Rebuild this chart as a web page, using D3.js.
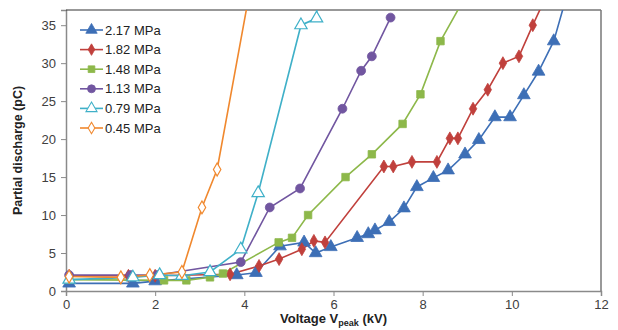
<!DOCTYPE html>
<html>
<head>
<meta charset="utf-8">
<script src="https://cdn.jsdelivr.net/npm/d3@7"></script>
<style>
  body { margin: 0; background: #fff; }
  text { font-family: "Liberation Sans", Arial, sans-serif; }
</style>
</head>
<body>
<div id="chart"></div>
<script>
// series values [voltage kV, discharge pC]; last points above 37 are cut by the frame
const s217 = [[0.07,1.0],[1.5,1.0],[2.0,1.3],[3.83,2.1],[4.26,2.4],[4.8,5.9],[5.34,6.4],[5.6,5.0],[5.94,5.8],[6.53,7.0],[6.78,7.5],[6.93,8.0],[7.25,9.1],[7.58,10.9],[7.87,13.7],[8.24,14.9],[8.57,15.9],[8.95,18.0],[9.26,19.9],[9.62,22.9],[9.96,22.9],[10.27,25.8],[10.6,28.9],[10.94,32.9],[11.3,40.3]];
const s182 = [[0.07,2.0],[1.4,2.0],[2.0,2.0],[3.68,2.2],[4.33,3.3],[4.78,4.2],[5.29,5.5],[5.56,6.6],[5.81,6.4],[7.13,16.4],[7.34,16.4],[7.76,17.0],[8.32,17.0],[8.61,20.1],[8.79,20.1],[9.13,24.0],[9.46,26.5],[9.8,30.0],[10.16,30.9],[10.47,35.0],[10.8,39.2]];
const s148 = [[0.07,1.5],[2.2,1.4],[2.7,1.4],[3.23,1.8],[3.52,2.3],[4.77,6.4],[5.07,7.0],[5.43,10.0],[6.27,15.0],[6.86,18.0],[7.55,22.0],[7.95,25.9],[8.4,32.9],[9.0,39.2]];
const s113 = [[0.07,2.1],[1.45,2.1],[2.05,2.1],[3.92,3.8],[4.57,11.0],[5.25,13.5],[6.2,24.0],[6.62,29.0],[6.86,30.9],[7.28,36.0]];
const s079 = [[0.07,1.5],[1.5,1.8],[2.1,2.1],[2.6,2.0],[3.23,2.5],[3.92,5.5],[4.31,12.9],[5.27,35.0],[5.62,35.9],[5.65,42]];
const s045 = [[0.07,1.9],[1.23,1.8],[1.88,2.1],[2.6,2.5],[3.05,11.0],[3.39,16.0],[4.2,42]];

const seriesNames = ['2.17 MPa','1.82 MPa','1.48 MPa','1.13 MPa','0.79 MPa','0.45 MPa'];
const xTicks = [0,2,4,6,8,10,12];
const yTicks = [0,5,10,15,20,25,30,35];

const series = [
  { name: seriesNames[0], data: s217, color: '#3d6fb6', symbol: d3.symbolTriangle, size: 70, open: false },
  { name: seriesNames[1], data: s182, color: '#c0403c', symbol: d3.symbolDiamond, size: 48, open: false },
  { name: seriesNames[2], data: s148, color: '#8db84a', symbol: d3.symbolSquare, size: 56, open: false },
  { name: seriesNames[3], data: s113, color: '#7156a0', symbol: d3.symbolCircle, size: 62, open: false },
  { name: seriesNames[4], data: s079, color: '#3fb0c8', symbol: d3.symbolTriangle, size: 66, open: true },
  { name: seriesNames[5], data: s045, color: '#f0882e', symbol: d3.symbolDiamond, size: 48, open: true }
];

const W = 618, H = 330;
const margin = { top: 10, right: 17, bottom: 39, left: 66 };
const width = W - margin.left - margin.right;
const height = H - margin.top - margin.bottom;

const svg = d3.select('#chart').append('svg')
  .attr('width', W).attr('height', H);

const g = svg.append('g')
  .attr('transform', `translate(${margin.left},${margin.top})`);

const x = d3.scaleLinear().domain([0, 12]).range([0, width]);
const y = d3.scaleLinear().domain([0, 37]).range([height, 0]);

svg.append('defs').append('clipPath').attr('id', 'plot')
  .append('rect').attr('width', width).attr('height', height);

// axes
const xAxis = g.append('g')
  .attr('transform', `translate(0,${height})`)
  .call(d3.axisBottom(x).tickValues(xTicks).tickSize(5).tickPadding(4));
const yAxis = g.append('g')
  .call(d3.axisLeft(y).tickValues(yTicks).tickSize(5).tickPadding(5));

[xAxis, yAxis].forEach(a => {
  a.select('.domain').attr('stroke', '#8a8a8a').attr('stroke-width', 1.5);
  a.selectAll('.tick line').attr('stroke', '#8a8a8a');
  a.selectAll('.tick text').attr('fill', '#404040').attr('font-size', 13);
});

// top and right frame
g.append('line').attr('x1', 0).attr('x2', width).attr('y1', 0).attr('y2', 0)
  .attr('stroke', '#333').attr('stroke-width', 1.2);
g.append('line').attr('x1', width).attr('x2', width).attr('y1', 0).attr('y2', height)
  .attr('stroke', '#777').attr('stroke-width', 1.5);

const line = d3.line().x(d => x(d[0])).y(d => y(d[1]));

const plot = g.append('g').attr('clip-path', 'url(#plot)');

series.forEach(s => {
  plot.append('path')
    .datum(s.data)
    .attr('fill', 'none')
    .attr('stroke', s.color)
    .attr('stroke-width', 1.6)
    .attr('d', line);
});

series.forEach(s => {
  const sym = d3.symbol().type(s.symbol).size(s.size);
  g.selectAll(null)
    .data(s.data.filter(d => d[1] <= 37))
    .enter()
    .append('path')
    .attr('transform', d => `translate(${x(d[0])},${y(d[1])})`)
    .attr('d', sym)
    .attr('fill', s.open ? '#fff' : s.color)
    .attr('stroke', s.color)
    .attr('stroke-width', s.open ? 1.2 : 0.8);
});

// legend
const legend = g.append('g').attr('transform', 'translate(14,20)');
series.forEach((s, i) => {
  const row = legend.append('g').attr('transform', `translate(0,${i * 19.6})`);
  row.append('line').attr('x1', 0).attr('x2', 23).attr('stroke', s.color).attr('stroke-width', 1.6);
  row.append('path')
    .attr('transform', 'translate(11.5,0)')
    .attr('d', d3.symbol().type(s.symbol).size(s.size * 0.8))
    .attr('fill', s.open ? '#fff' : s.color)
    .attr('stroke', s.color)
    .attr('stroke-width', s.open ? 1.1 : 0.8);
  row.append('text')
    .attr('x', 25).attr('y', 0).attr('dy', '0.35em')
    .attr('font-size', 13).attr('fill', '#222')
    .text(s.name);
});

// axis titles
svg.append('text')
  .attr('transform', `translate(22,${margin.top + height / 2}) rotate(-90)`)
  .attr('text-anchor', 'middle')
  .attr('font-size', 12.5).attr('font-weight', 'bold').attr('fill', '#222')
  .text('Partial discharge (pC)');

const xt = svg.append('text')
  .attr('x', margin.left + width / 2).attr('y', 323)
  .attr('text-anchor', 'middle')
  .attr('font-size', 13).attr('font-weight', 'bold').attr('fill', '#222');
xt.append('tspan').text('Voltage V');
xt.append('tspan').attr('font-size', 9).attr('dy', 3).text('peak');
xt.append('tspan').attr('dy', -3).text(' (kV)');
</script>
</body>
</html>
